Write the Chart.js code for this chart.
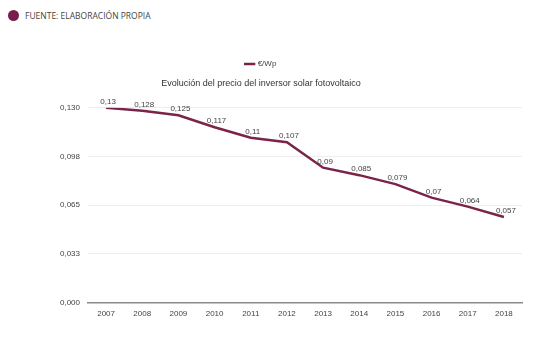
<!DOCTYPE html>
<html>
<head>
<meta charset="utf-8">
<script src="https://cdn.jsdelivr.net/npm/chart.js@4"></script>
<style>
  html, body { margin: 0; padding: 0; background: #fff; }
  body { width: 533px; height: 340px; position: relative; overflow: hidden; }
  #source { position: absolute; left: 8px; top: 9px; font-family: "Open Sans", sans-serif; font-size: 8.5px; color: #444; }
  #source .dot { display: inline-block; width: 11px; height: 11px; border-radius: 50%; background: #7a1c4e; vertical-align: middle; margin-right: 6px; }
  #source span { vertical-align: middle; }
  #wrap { position: absolute; left: 0; top: 40px; width: 533px; height: 300px; }
</style>
</head>
<body>
<div id="source"><i class="dot"></i><span>FUENTE: ELABORACIÓN PROPIA</span></div>
<div id="wrap"><canvas id="chart"></canvas></div>
<script>
"use strict";

const years = ['2007', '2008', '2009', '2010', '2011', '2012', '2013', '2014', '2015', '2016', '2017', '2018'];
const price = [0.13, 0.128, 0.125, 0.117, 0.11, 0.107, 0.09, 0.085, 0.079, 0.07, 0.064, 0.057];
const y_ticks = [0, 0.0325, 0.065, 0.0975, 0.13];
const y_tick_labels = ['0,000', '0,033', '0,065', '0,098', '0,130'];

const line_color = '#7b2348';

// draws the value above each point
const value_labels = {
  id: 'value_labels',
  afterDatasetsDraw(chart) {
    const ctx = chart.ctx;
    const meta = chart.getDatasetMeta(0);
    ctx.save();
    ctx.font = '8px "Liberation Sans", Arial, sans-serif';
    ctx.fillStyle = '#444';
    ctx.textAlign = 'center';
    ctx.textBaseline = 'bottom';
    meta.data.forEach((pt, i) => {
      const txt = String(price[i]).replace('.', ',');
      ctx.fillText(txt, pt.x + 2, pt.y - 2);
    });
    ctx.restore();
  }
};

new Chart(document.getElementById('chart'), {
  type: 'line',
  data: {
    labels: years,
    datasets: [{
      label: '€/Wp',
      data: price,
      borderColor: line_color,
      backgroundColor: line_color,
      borderWidth: 2.5,
      pointRadius: 0,
      tension: 0,
    }],
  },
  options: {
    responsive: true,
    maintainAspectRatio: false,
    animation: false,
    layout: { padding: { top: 17, right: 11, bottom: 14, left: 0 } },
    plugins: {
      legend: {
        display: true,
        weight: 3000,
        labels: {
          usePointStyle: true,
          pointStyle: 'line',
          boxWidth: 9,
          boxHeight: 9,
          padding: 3,
          color: '#444',
          font: { family: '"Liberation Sans", Arial, sans-serif', size: 8 },
        },
      },
      title: {
        display: true,
        text: 'Evolución del precio del inversor solar fotovoltaico',
        color: '#333',
        font: { family: '"Liberation Sans", Arial, sans-serif', size: 9, weight: 'normal' },
        padding: { top: 0, bottom: 19 },
      },
      tooltip: { enabled: false },
    },
    scales: {
      x: {
        offset: true,
        grid: { display: false, drawTicks: false },
        border: { display: true, color: '#8a8a8a', width: 1.5 },
        ticks: {
          color: '#444',
          padding: 7,
          maxRotation: 0,
          font: { family: '"Liberation Sans", Arial, sans-serif', size: 8 },
        },
      },
      y: {
        min: 0,
        max: 0.13,
        afterFit(scale) { scale.width = 88; },
        afterBuildTicks(scale) {
          scale.ticks = y_ticks.map(v => ({ value: v }));
        },
        grid: { color: '#eeeeee', drawTicks: false },
        border: { display: false },
        ticks: {
          color: '#444',
          padding: 8,
          font: { family: '"Liberation Sans", Arial, sans-serif', size: 8 },
          callback: (value, index) => y_tick_labels[index],
        },
      },
    },
  },
  plugins: [value_labels],
});
</script>
</body>
</html>
